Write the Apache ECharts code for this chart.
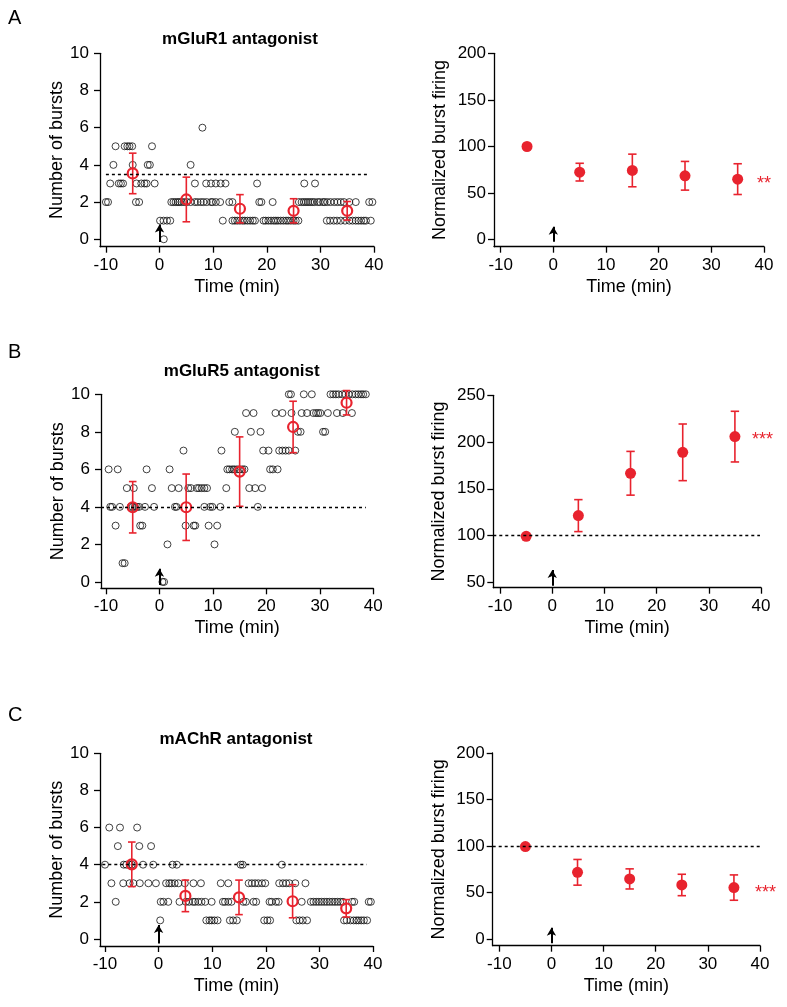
<!DOCTYPE html>
<html>
<head>
<meta charset="utf-8">
<title>Burst firing</title>
<script src="https://cdn.jsdelivr.net/npm/echarts/dist/echarts.min.js"></script>
<style>
  html, body { margin: 0; padding: 0; background: #fff; }
  #main { width: 787px; height: 1007px; }
</style>
</head>
<body>
<div id="main"></div>
<script>
var RED = '#e8232e';
var FONT = 'Arial, "Liberation Sans", sans-serif';

// time of each averaged bin (min)
var binTimes = [-5, 5, 15, 25, 35];
var timeTicks = [-10, 0, 10, 20, 30, 40];
var burstTicks = [0, 2, 4, 6, 8, 10];

// single cells: [number of bursts, [times in min]]
var burstsMGluR1 = [
  [6, [8]],
  [5, [-8.2, -6.5, -6.0, -5.6, -5.1, -1.4]],
  [4, [-8.6, -5.0, -2.2, -1.8, 5.8]],
  [3, [-9.2, -7.6, -7.2, -6.8, -4.3, -3.4, -2.8, -2.4, -0.9, 6.6, 8.7, 9.6, 10.5, 11.4, 12.3, 18.2, 27.0, 29.0]],
  [2, [-10, -9.6, -4.4, -3.8, 2.2, 2.6, 3.0, 3.4, 3.7, 4.1, 4.6, 5.1, 5.8, 6.6, 7.1, 7.7, 8.2, 8.8, 9.6, 9.9, 10.5, 11.3, 13.0, 13.6,
       18.6, 19.0, 21.1, 26.0, 26.5, 26.9, 27.3, 27.7, 28.1, 28.5, 28.9, 29.5, 29.9, 30.5, 30.8, 31.3, 31.9, 32.6, 33.2, 33.8, 34.4, 35.4, 36.6, 39.1, 39.7]],
  [1, [0.1, 0.75, 1.4, 2.0, 11.8, 13.6, 14.05, 14.5, 15.0, 15.5, 15.9, 16.4, 16.9, 17.4, 17.8, 19.4, 19.8, 20.3, 20.8, 21.3, 21.7, 22.1, 22.6,
       23.1, 23.6, 24.0, 24.5, 25.0, 25.4, 25.9, 31.2, 31.8, 32.5, 33.1, 33.8, 34.6, 35.4, 36.0, 36.6, 37.1, 37.6, 38.1, 38.5, 39.4]],
  [0, [0.8]]
];
var burstsMGluR5 = [
  [10, [24.2, 24.6, 27.0, 28.5, 32.0, 32.5, 33.0, 33.5, 34.2, 34.8, 35.4, 36.1, 36.7, 37.2, 37.7, 38.1, 38.6]],
  [9, [16.2, 17.6, 21.7, 23.0, 24.7, 26.6, 27.6, 28.8, 29.3, 29.7, 30.1, 31.5, 33.2, 34.3, 36.0]],
  [8, [14.1, 17.1, 18.9, 25.9, 26.4, 30.6, 31.0]],
  [7, [4.5, 11.6, 19.4, 20.4, 22.4, 23.0, 23.6, 24.2, 25.4]],
  [6, [-9.5, -7.8, -2.4, 1.9, 12.7, 13.1, 13.6, 14.0, 14.5, 15.0, 15.5, 15.9, 20.7, 21.2, 22.1]],
  [5, [-6.1, -4.8, -1.4, 2.3, 3.6, 5.4, 5.9, 7.0, 7.4, 7.9, 8.4, 8.9, 12.5, 16.8, 17.9, 19.2]],
  [4, [-9.2, -8.85, -7.4, -5.4, -5.0, -4.6, -4.2, -3.8, -2.7, -1.0, 2.9, 3.2, 8.4, 9.5, 9.9, 11.4, 18.4]],
  [3, [-8.2, -3.6, -3.2, 4.9, 6.4, 6.7, 9.2, 10.8]],
  [2, [1.5, 10.3]],
  [1, [-6.9, -6.5]],
  [0, [0.56, 0.87]]
];
var burstsMAChR = [
  [6, [-9.2, -7.2, -4.0]],
  [5, [-7.6, -3.6, -1.4]],
  [4, [-10.0, -6.5, -6.0, -5.4, -5.0, -2.9, -1.0, 2.6, 3.4, 15.3, 15.7, 23.0]],
  [3, [-8.8, -6.6, -5.4, -4.7, -3.5, -1.9, -0.5, 1.4, 2.0, 2.4, 3.0, 3.7, 4.9, 6.5, 7.9, 11.6, 13.0,
       16.8, 17.4, 18.0, 18.6, 19.3, 19.9, 22.5, 23.2, 23.8, 24.4, 25.5, 27.4]],
  [2, [-8.0, 0.4, 0.9, 1.8, 3.9, 5.1, 5.7, 6.4, 6.8, 7.4, 8.0, 8.7, 9.9, 12.0, 12.4, 13.0, 13.6, 15.8, 16.3, 17.7, 18.2,
       20.7, 21.1, 21.9, 22.4, 26.7, 28.4, 28.9, 29.4, 29.9, 30.4, 30.9, 31.4, 31.9, 32.4, 32.9, 33.4, 33.9, 34.4, 36.1, 36.5, 39.2, 39.6]],
  [1, [0.3, 8.9, 9.5, 9.9, 10.4, 11.0, 13.3, 13.9, 14.6, 19.7, 20.3, 20.8, 25.7, 26.3, 26.9, 27.7,
       34.6, 35.1, 35.8, 36.4, 36.9, 37.3, 37.8, 38.3, 38.9]]
];

// bin means and SEM (number of bursts)
var meanMGluR1 = [3.54, 2.14, 1.64, 1.53, 1.53];
var semMGluR1 = [1.09, 1.2, 0.76, 0.65, 0.5];
var meanMGluR5 = [3.98, 3.98, 5.88, 8.26, 9.55];
var semMGluR5 = [1.37, 1.77, 1.85, 1.37, 0.65];
var meanMAChR = [4.02, 2.32, 2.24, 2.03, 1.65];
var semMAChR = [1.2, 0.85, 0.93, 0.89, 0.47];

// normalized burst firing (%) and SEM
var normMGluR1 = [100, 72.5, 74.3, 68.6, 65];
var normSemMGluR1 = [0, 9.5, 17.5, 15.4, 16.5];
var normMGluR5 = [99.2, 121.3, 166.6, 189, 205.8];
var normSemMGluR5 = [0, 17.1, 23.4, 30.3, 27.1];
var normMAChR = [99.5, 71.9, 64.8, 58.3, 55.5];
var normSemMAChR = [0, 13.8, 10.8, 11.5, 13.6];

var baselineBursts = [3.52, 4, 4];
var stars = ['**', '***', '***'];
var titles = ['mGluR1 antagonist', 'mGluR5 antagonist', 'mAChR antagonist'];
var letters = ['A', 'B', 'C'];

function flatten(rows) {
  var out = [];
  rows.forEach(function (r) {
    r[1].forEach(function (t) { out.push([t, r[0]]); });
  });
  return out;
}
function withErr(mean, sem) {
  return binTimes.map(function (t, i) { return [t, mean[i], sem[i]]; });
}

function errorBars(halfCap) {
  return function (params, api) {
    var x = api.value(0), m = api.value(1), e = api.value(2);
    if (!e) return null;
    var top = api.coord([x, m + e]);
    var bot = api.coord([x, m - e]);
    var st = { stroke: RED, lineWidth: 1.6 };
    return {
      type: 'group',
      children: [
        { type: 'line', shape: { x1: top[0], y1: top[1], x2: bot[0], y2: bot[1] }, style: st },
        { type: 'line', shape: { x1: top[0] - halfCap, y1: top[1], x2: top[0] + halfCap, y2: top[1] }, style: st },
        { type: 'line', shape: { x1: bot[0] - halfCap, y1: bot[1], x2: bot[0] + halfCap, y2: bot[1] }, style: st }
      ]
    };
  };
}

// panel layout: grid boxes and axis ranges
var layout = [
  { left: 100, top: 53.3, width: 274, height: 193.4, xmin: -11.1, ymin: -0.4, ymax: 10 },
  { left: 494, top: 53.3, width: 270, height: 193.4, xmin: -11.27, ymin: -7.5, ymax: 200 },
  { left: 101, top: 394.3, width: 272.3, height: 194, xmin: -10.93, ymin: -0.34, ymax: 10 },
  { left: 493.3, top: 395.3, width: 267.7, height: 192.4, xmin: -11.3, ymin: 44.2, ymax: 250 },
  { left: 100, top: 753.3, width: 273, height: 192.7, xmin: -10.93, ymin: -0.38, ymax: 10 },
  { left: 492.7, top: 753, width: 267.3, height: 192.7, xmin: -11.27, ymin: -6.9, ymax: 200 }
];
var dashEnds = [[-10, 39], [-11.3, 39.5], [-10.93, 38.6], [-11.3, 39.8], [-10.5, 38.8], [-11.27, 40]];
var arrowEnds = [[-0.15, 0.8], [-2.1, 14], [-0.16, 0.7], [46.4, 63], [-0.25, 0.75], [-4.3, 12.5]];

var burstRows = [burstsMGluR1, burstsMGluR5, burstsMAChR];
var meanRows = [[meanMGluR1, semMGluR1], [meanMGluR5, semMGluR5], [meanMAChR, semMAChR]];
var normRows = [[normMGluR1, normSemMGluR1], [normMGluR5, normSemMGluR5], [normMAChR, normSemMAChR]];

var axisStyle = { color: '#000', width: 1.3 };
var labelStyle = { color: '#000', fontSize: 17, fontFamily: FONT };

var grids = [], xAxes = [], yAxes = [], series = [], graphics = [];

layout.forEach(function (g, i) {
  var isLeft = i % 2 === 0;
  var p = Math.floor(i / 2);
  grids.push({ left: g.left, top: g.top, width: g.width, height: g.height });
  xAxes.push({
    gridIndex: i, type: 'value', min: g.xmin, max: 40,
    axisLine: { onZero: false, lineStyle: axisStyle },
    axisTick: { length: 6, customValues: timeTicks, lineStyle: axisStyle },
    axisLabel: Object.assign({ customValues: timeTicks, margin: 10 }, labelStyle),
    splitLine: { show: false },
    name: 'Time (min)', nameLocation: 'middle', nameGap: 31,
    nameTextStyle: { color: '#000', fontSize: 18, fontFamily: FONT }
  });
  var yt = isLeft ? burstTicks : (p === 1 ? [50, 100, 150, 200, 250] : [0, 50, 100, 150, 200]);
  yAxes.push({
    gridIndex: i, type: 'value', min: g.ymin, max: g.ymax,
    axisLine: { onZero: false, lineStyle: axisStyle },
    axisTick: { length: 6, customValues: yt, lineStyle: axisStyle },
    axisLabel: Object.assign({ customValues: yt, margin: isLeft ? 11 : 8 }, labelStyle),
    splitLine: { show: false },
    name: isLeft ? 'Number of bursts' : 'Normalized burst firing',
    nameLocation: 'middle', nameGap: isLeft ? 30 : 45,
    nameTextStyle: { color: '#000', fontSize: 18, fontFamily: FONT }
  });

  var base = isLeft ? baselineBursts[p] : 100;
  var marks = {
    silent: true, symbol: ['none', 'none'], label: { show: false }, animation: false,
    data: [
      [{ coord: [dashEnds[i][0], base], lineStyle: { type: [3, 3], width: 1.4, color: '#000' } },
       { coord: [dashEnds[i][1], base] }],
      [{ coord: [0, arrowEnds[i][0]], symbol: 'none', lineStyle: { type: 'solid', width: 2, color: '#000' } },
       { coord: [0, arrowEnds[i][1]], symbol: 'arrow', symbolSize: [7, 8] }]
    ]
  };

  if (isLeft) {
    series.push({
      type: 'scatter', xAxisIndex: i, yAxisIndex: i, data: flatten(burstRows[p]),
      symbol: 'circle', symbolSize: 7, silent: true,
      itemStyle: { color: 'rgba(0,0,0,0)', borderColor: '#111', borderWidth: 0.8, opacity: 1 },
      markLine: marks, z: 2
    });
    series.push({
      type: 'custom', xAxisIndex: i, yAxisIndex: i, renderItem: errorBars(3.8),
      data: withErr(meanRows[p][0], meanRows[p][1]), z: 3
    });
    series.push({
      type: 'scatter', xAxisIndex: i, yAxisIndex: i, data: withErr(meanRows[p][0], meanRows[p][1]),
      symbol: 'circle', symbolSize: 10,
      itemStyle: { color: 'rgba(255,255,255,0)', borderColor: RED, borderWidth: 2.2, opacity: 1 }, z: 4
    });
  } else {
    series.push({
      type: 'custom', xAxisIndex: i, yAxisIndex: i, renderItem: errorBars(4.2),
      data: withErr(normRows[p][0], normRows[p][1]), z: 3
    });
    series.push({
      type: 'scatter', xAxisIndex: i, yAxisIndex: i, data: withErr(normRows[p][0], normRows[p][1]),
      symbol: 'circle', symbolSize: 11, itemStyle: { color: RED, opacity: 1 },
      markLine: marks, z: 4
    });
  }
});

// titles, panel letters and significance marks
var titlePos = [[240, 39], [241.7, 371], [236, 739.3]];
var letterPos = [[8, 8], [8, 342], [8, 705]];
var starPos = [[757, 184], [752, 440], [755, 893]];
titles.forEach(function (t, p) {
  graphics.push({ type: 'text', x: titlePos[p][0], y: titlePos[p][1],
    style: { text: t, align: 'center', verticalAlign: 'middle', fill: '#000', font: 'bold 17px ' + FONT } });
  graphics.push({ type: 'text', x: letterPos[p][0], y: letterPos[p][1],
    style: { text: letters[p], fill: '#000', font: '20px ' + FONT } });
  graphics.push({ type: 'text', x: starPos[p][0], y: starPos[p][1],
    style: { text: stars[p], verticalAlign: 'middle', fill: RED, font: '18px ' + FONT } });
});

var chart = echarts.init(document.getElementById('main'));
chart.setOption({
  animation: false,
  backgroundColor: '#fff',
  grid: grids,
  xAxis: xAxes,
  yAxis: yAxes,
  series: series,
  graphic: graphics
});
</script>
</body>
</html>
